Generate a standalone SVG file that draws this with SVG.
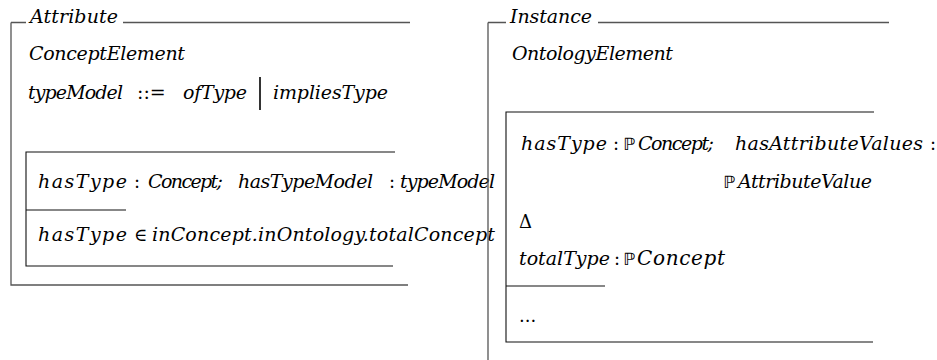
<svg xmlns="http://www.w3.org/2000/svg" width="937" height="360" viewBox="0 0 937 360">
<style>
text{fill:#000}
.t{font-family:'DejaVu Serif',serif;font-style:italic;font-size:19px}
.r{font-family:'DejaVu Serif',serif;font-style:normal;font-size:18px}
.bb{font-family:'DejaVu Sans',sans-serif;font-style:normal;font-size:17px}
.frame{stroke:#555;stroke-width:1.3;fill:none}
.box{stroke:#111;stroke-width:1.1;fill:none}
</style>
<rect width="937" height="360" fill="#fff"/>
<g id="attribute">
  <path class="frame" d="M11,22.5H26M123,22.5H410M11,22.5V285H408"/>
  <text class="t" x="30" y="23" textLength="88">Attribute</text>
  <text class="t" x="29" y="60" textLength="156">ConceptElement</text>
  <text class="t" x="28" y="99" textLength="95">typeModel</text>
  <text class="r" x="137" y="99" style="font-size:19px">::=</text>
  <text class="t" x="183" y="99" textLength="64">ofType</text>
  <line x1="260" y1="77" x2="260" y2="110" stroke="#000" stroke-width="1.6"/>
  <text class="t" x="273" y="99" textLength="115">impliesType</text>
  <g id="attribute-schema">
    <path class="box" d="M395,152H26V266H393M26,210H126"/>
    <text class="t" x="38" y="188" textLength="89">hasType</text>
    <text class="r" x="134" y="188">:</text>
    <text class="t" x="148" y="188" textLength="75">Concept;</text>
    <text class="t" x="238" y="188" textLength="135">hasTypeModel</text>
    <text class="r" x="389" y="188">:</text>
    <text class="t" x="400" y="188" textLength="95">typeModel</text>
    <text class="t" x="38" y="241" textLength="89">hasType</text>
    <text class="r" x="134" y="241">∈</text>
    <text class="t" x="152" y="241" textLength="343">inConcept.inOntology.totalConcept</text>
  </g>
</g>
<g id="instance">
  <path class="frame" d="M488,22.5H506M598,22.5H889M488,22.5V360"/>
  <text class="t" x="510" y="23" textLength="82">Instance</text>
  <text class="t" x="512" y="60" textLength="161">OntologyElement</text>
  <g id="instance-schema">
    <path class="box" d="M874,112H506V342H873M506,286H605"/>
    <text class="t" x="521" y="150" textLength="86">hasType</text>
    <text class="r" x="613" y="150">:</text>
    <text class="bb" x="623" y="150">ℙ</text>
    <text class="t" x="638" y="150" textLength="76">Concept;</text>
    <text class="t" x="735" y="150" textLength="188">hasAttributeValues</text>
    <text class="r" x="930" y="150">:</text>
    <text class="bb" x="723" y="188">ℙ</text>
    <text class="t" x="738" y="188" textLength="134">AttributeValue</text>
    <text class="r" x="519" y="228">Δ</text>
    <text class="t" x="519" y="265" textLength="91">totalType</text>
    <text class="r" x="614" y="265">:</text>
    <text class="bb" x="623" y="265">ℙ</text>
    <text class="t" x="637" y="265" style="font-size:20px" textLength="88">Concept</text>
    <text class="r" x="519" y="322">...</text>
  </g>
</g>
</svg>
